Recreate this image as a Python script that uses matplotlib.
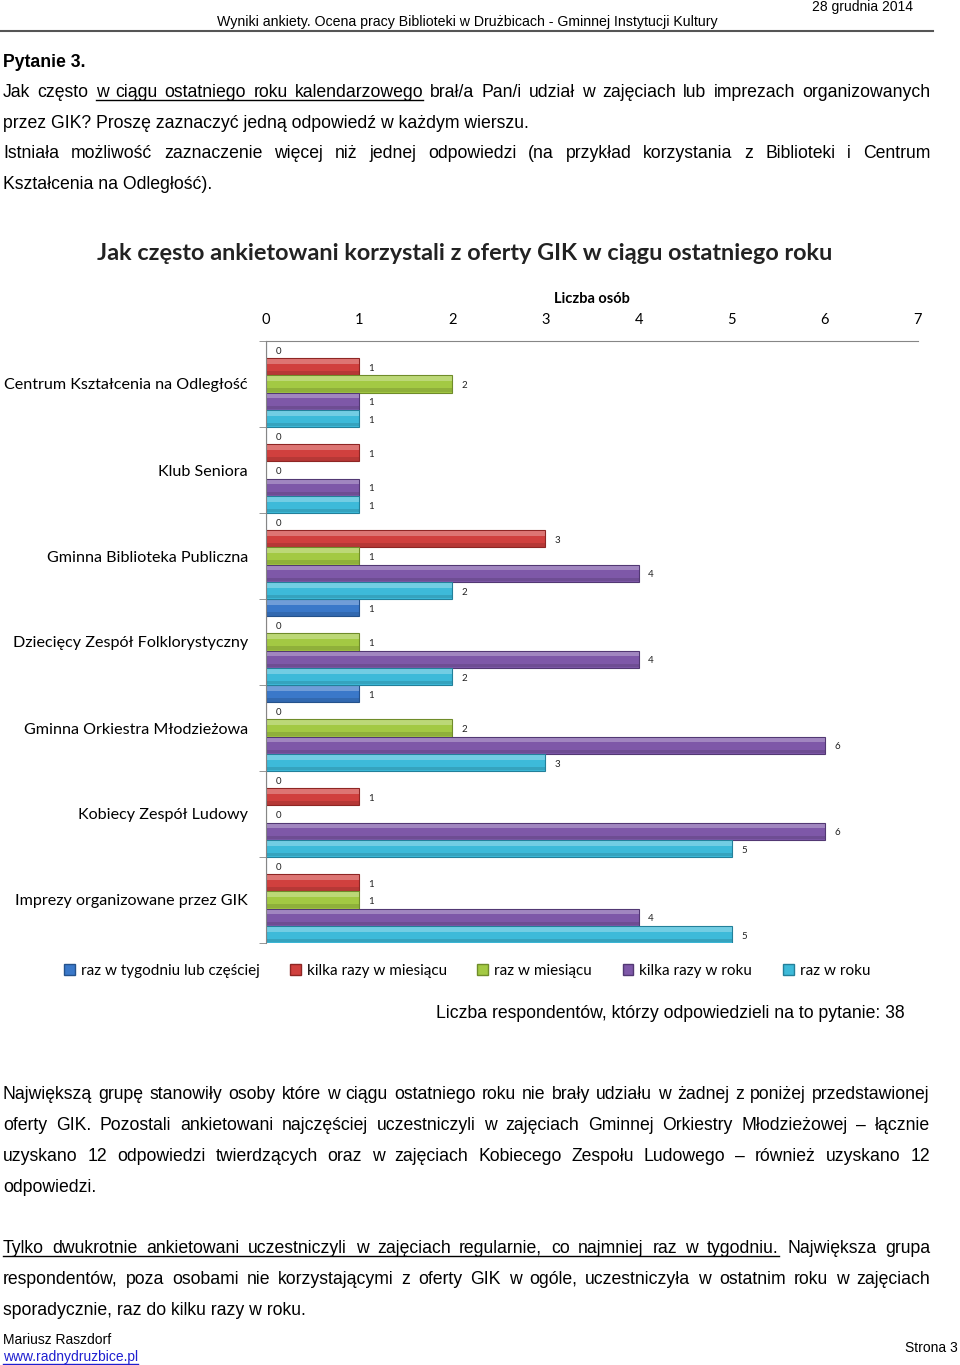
import matplotlib
matplotlib.use('Agg')
import matplotlib.pyplot as plt
from matplotlib.patches import Patch
import numpy as np

# dane wykresu
kategorie = ['Centrum Kształcenia na Odległość', 'Klub Seniora', 'Gminna Biblioteka Publiczna',
             'Dziecięcy Zespół Folklorystyczny', 'Gminna Orkiestra Młodzieżowa',
             'Kobiecy Zespół Ludowy', 'Imprezy organizowane przez GIK']
serie = ['raz w tygodniu lub częściej', 'kilka razy w miesiącu', 'raz w miesiącu',
         'kilka razy w roku', 'raz w roku']
raz_w_tygodniu = [0, 0, 0, 1, 1, 0, 0]
kilka_w_miesiacu = [1, 1, 3, 0, 0, 1, 1]
raz_w_miesiacu = [2, 0, 1, 1, 2, 0, 1]
kilka_w_roku = [1, 1, 4, 4, 6, 6, 4]
raz_w_roku = [1, 1, 2, 2, 3, 5, 5]
kolory = ['#3a78c9', '#d0403e', '#a3c943', '#7e58a8', '#3dbad9']
krawedzie = ['#24528c', '#8e2624', '#6f8c2a', '#523873', '#23809a']
osie_x = [0, 1, 2, 3, 4, 5, 6, 7]

W, H = 960, 1365
fig = plt.figure(figsize=(W / 100, H / 100), dpi=100)
renderer = fig.canvas.get_renderer()


def fx(x):
    return x / W


def fy(y):
    return 1 - y / H


TXT = dict(family='Liberation Sans', fontsize=12.7, color='black')


def szer(s, **kw):
    t = fig.text(0, 0, s, **kw)
    w = t.get_window_extent(renderer).width
    t.remove()
    return w


def linia(tekst, y, justuj=True, x0=3, x1=930, podkr=None, **kw):
    # podkr = (pierwsze slowo, ostatnie slowo) do podkreslenia
    opt = dict(TXT)
    opt.update(kw)
    slowa = tekst.split(' ')
    if not justuj:
        fig.text(fx(x0), fy(y), tekst, va='baseline', **opt)
        if podkr:
            w = szer(tekst, **opt)
            fig.add_artist(plt.Line2D([fx(x0), fx(x0 + w)], [fy(y + 2.5)] * 2,
                                      color=opt['color'], lw=1))
        return
    szerokosci = [szer(s, **opt) for s in slowa]
    odstep = (x1 - x0 - sum(szerokosci)) / (len(slowa) - 1)
    x = x0
    ul_start, ul_end = x0, x0
    for i, (s, w) in enumerate(zip(slowa, szerokosci)):
        fig.text(fx(x), fy(y), s, va='baseline', **opt)
        if podkr and i == podkr[0]:
            ul_start = x
        if podkr and i == podkr[1]:
            ul_end = x + w
        x += w + odstep
    if podkr:
        fig.add_artist(plt.Line2D([fx(ul_start), fx(ul_end)], [fy(y + 2.5)] * 2,
                                  color='black', lw=1))


# naglowek strony
fig.text(fx(913), fy(11), '28 grudnia 2014', ha='right', va='baseline',
         family='Liberation Sans', fontsize=10)
fig.text(fx(467), fy(26), 'Wyniki ankiety. Ocena pracy Biblioteki w Drużbicach - Gminnej Instytucji Kultury',
         ha='center', va='baseline', family='Liberation Sans', fontsize=10.2)
fig.add_artist(plt.Line2D([0, fx(933)], [fy(30.5)] * 2, color='#555555', lw=1.5))

linia('Pytanie 3.', 67, justuj=False, fontweight='bold')
linia('Jak często w ciągu ostatniego roku kalendarzowego brał/a Pan/i udział w zajęciach lub imprezach organizowanych', 97,
      podkr=(2, 6))
linia('przez GIK? Proszę zaznaczyć jedną odpowiedź w każdym wierszu.', 128, justuj=False)
linia('Istniała możliwość zaznaczenie więcej niż jednej odpowiedzi (na przykład korzystania z Biblioteki i Centrum', 158)
linia('Kształcenia na Odległość).', 189, justuj=False)

# wykres
ax = fig.add_axes([fx(266), fy(943), fx(918) - fx(266), fy(341) - fy(943)])
dane = [raz_w_tygodniu, kilka_w_miesiacu, raz_w_miesiacu, kilka_w_roku, raz_w_roku]
h = 0.2
grupy = np.arange(len(kategorie))
for i, wart in enumerate(dane):
    pos = grupy + (i + 0.5) * h
    ax.barh(pos, wart, height=h, color=kolory[i], edgecolor=krawedzie[i], linewidth=0.8)
    ax.barh(pos - h * 0.3, wart, height=h * 0.28, color='white', alpha=0.28, linewidth=0)
    ax.barh(pos + h * 0.36, wart, height=h * 0.2, color='black', alpha=0.12, linewidth=0)
    for p, v in zip(pos, wart):
        ax.text(v + 0.1, p + 0.02, str(v), fontsize=7, va='center', ha='left',
                family='Lato', color='#222222')

ax.set_xlim(0, 7)
ax.set_ylim(len(kategorie), 0)
ax.xaxis.tick_top()
ax.xaxis.set_label_position('top')
ax.set_xticks(osie_x)
ax.set_xticklabels([str(v) for v in osie_x], family='Lato', fontsize=10.5)
ax.tick_params(axis='x', length=0, pad=10)
ax.set_xlabel('Liczba osób', family='Lato', fontsize=10.5, fontweight='bold', labelpad=7)
ax.set_yticks(grupy + 0.5)
ax.set_yticklabels(kategorie, family='Lato', fontsize=11.6)
ax.set_yticks(np.arange(len(kategorie) + 1), minor=True)
ax.tick_params(axis='y', which='major', length=0, pad=13)
ax.tick_params(axis='y', which='minor', length=5, color='#868686')
for s in ['right', 'bottom']:
    ax.spines[s].set_visible(False)
for s in ['top', 'left']:
    ax.spines[s].set_color('#868686')

fig.text(fx(465), fy(254), 'Jak często ankietowani korzystali z oferty GIK w ciągu ostatniego roku',
         ha='center', va='center', family='Lato', fontsize=16.9, fontweight='bold', color='#222222')

uchwyty = [Patch(facecolor=c, edgecolor=e) for c, e in zip(kolory, krawedzie)]
fig.legend(uchwyty, serie, loc='center', bbox_to_anchor=(fx(467), fy(971)), ncol=5,
           frameon=False, handlelength=0.7, handleheight=0.7, handletextpad=0.4,
           columnspacing=2.0, prop=dict(family='Lato', size=11))

fig.text(fx(905), fy(1018), 'Liczba respondentów, którzy odpowiedzieli na to pytanie: 38',
         ha='right', va='baseline', **TXT)

linia('Największą grupę stanowiły osoby które w ciągu ostatniego roku nie brały udziału w żadnej z poniżej przedstawionej', 1099)
linia('oferty GIK. Pozostali ankietowani najczęściej uczestniczyli w zajęciach Gminnej Orkiestry Młodzieżowej – łącznie', 1130)
linia('uzyskano 12 odpowiedzi twierdzących oraz w zajęciach Kobiecego Zespołu Ludowego – również uzyskano 12', 1161)
linia('odpowiedzi.', 1192, justuj=False)
linia('Tylko dwukrotnie ankietowani uczestniczyli w zajęciach regularnie, co najmniej raz w tygodniu. Największa grupa', 1253,
      podkr=(0, 11))
linia('respondentów, poza osobami nie korzystającymi z oferty GIK w ogóle, uczestniczyła w ostatnim roku w zajęciach', 1284)
linia('sporadycznie, raz do kilku razy w roku.', 1315, justuj=False)

# stopka
fig.text(fx(3), fy(1344), 'Mariusz Raszdorf', va='baseline', family='Liberation Sans', fontsize=10)
linia('www.radnydruzbice.pl', 1361, justuj=False, podkr=True, fontsize=10, color='#1f1fd0')
fig.text(fx(958), fy(1352), 'Strona 3', ha='right', va='baseline', family='Liberation Sans', fontsize=10)

fig.savefig('out.png', dpi=100)
